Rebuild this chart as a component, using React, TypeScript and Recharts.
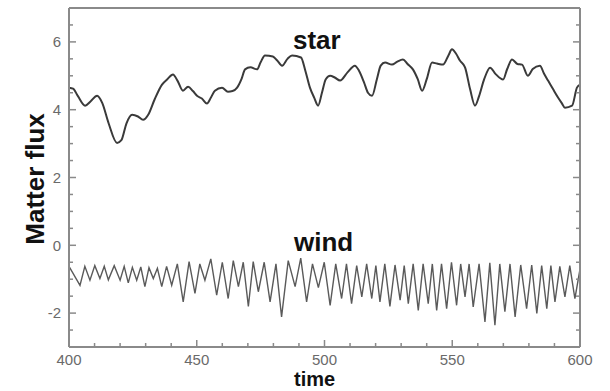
import { Line, LineChart, XAxis, YAxis } from "recharts";

// star matter flux (smooth curve)
const starTime = [
  400, 401.6, 403.5, 406.3, 408.5, 411, 413, 415.5, 418.8, 420.5, 422.5, 424.7, 427, 429, 431, 433.5, 436.4,
  438.5, 440.7, 442.5, 444.6, 446.6, 448.5, 450.1, 452, 454, 455.5, 457.1, 459.9, 462.2, 464, 465.8, 467.5,
  468.9, 471, 473.6, 475, 476.7, 479.8, 481.5, 483.4, 485.5, 487.3, 490.8, 492.5, 494.3, 496, 497.5, 499,
  500.5, 502.2, 504, 506.1, 509, 511.9, 513.5, 515.5, 517, 518.6, 520.5, 522, 523.7, 526.4, 528.5, 530.7,
  532.5, 534.6, 536.5, 538.2, 540, 542.1, 544, 546.4, 548.5, 549.9, 551.5, 553, 555, 557, 558.9, 560.5,
  562.5, 564.8, 567, 569.9, 571.5, 573.4, 575.5, 577.3, 579.6, 581.5, 584.3, 586, 587.5, 589.5, 591.4,
  592.8, 594.1, 596.9, 598.8, 600,
];
const starFlux = [
  4.65, 4.62, 4.4, 4.12, 4.25, 4.41, 4.2, 3.6, 3.02, 3.1, 3.6, 3.85, 3.8, 3.7, 3.85, 4.3, 4.74,
  4.9, 5.04, 4.85, 4.56, 4.68, 4.55, 4.41, 4.33, 4.18, 4.35, 4.56, 4.65, 4.53, 4.55, 4.65, 4.9,
  5.19, 5.25, 5.19, 5.4, 5.6, 5.57, 5.45, 5.3, 5.5, 5.6, 5.54, 5.15, 4.65, 4.35, 4.12, 4.5,
  4.9, 5.0, 4.95, 4.86, 5.1, 5.3, 5.15, 4.8, 4.5, 4.41, 4.9, 5.3, 5.39, 5.33, 5.42, 5.48,
  5.35, 5.19, 4.9, 4.56, 4.9, 5.39, 5.36, 5.33, 5.6, 5.78, 5.65, 5.45, 5.25, 4.6, 4.12, 4.4,
  4.9, 5.24, 5.05, 4.89, 5.2, 5.48, 5.35, 5.33, 5.0, 5.2, 5.3, 5.05, 4.86, 4.6, 4.36,
  4.2, 4.06, 4.12, 4.65, 4.74,
];

// wind matter flux (fast oscillation, alternating peaks and troughs)
const windTime = [
  400, 404.3, 406.2, 408.2, 410.1, 412.1, 413.8, 415.4, 417.7, 420, 421.6, 423.2, 424.8, 426.5, 428.1, 429.7,
  431.3, 433, 434.6, 436.3, 438.2, 440.2, 442.4, 444.7, 447, 449.3, 451.2, 453.2, 455.5, 457.8, 460, 462.3,
  464.3, 466.3, 468.2, 470.2, 472.1, 474.1, 476.4, 478.7, 481, 483.2, 485.8, 488.5, 490.7, 493, 495.3, 497.6,
  499.9, 502.2, 504.4, 506.7, 508.6, 510.6, 512.6, 514.6, 516.5, 518.5, 520.1, 521.7, 523.6, 525.6, 527.6,
  529.6, 531.2, 532.8, 534.7, 536.7, 538.6, 540.6, 542.2, 543.9, 545.8, 547.8, 549.7, 551.7, 553.3, 555,
  556.6, 558.2, 560.5, 562.8, 564.7, 566.7, 568.6, 570.6, 572.6, 574.6, 576.8, 579.1, 581.1, 583.1, 585,
  587, 588.6, 590.2, 592.1, 594.1, 596, 598, 600,
];
const windFlux = [
  -0.62, -1.18, -0.62, -1.03, -0.6, -0.98, -0.62, -1.02, -0.6, -1.03, -0.62, -1.11, -0.65, -1.03, -0.64, -1.22,
  -0.66, -0.98, -0.68, -1.22, -0.62, -1.18, -0.55, -1.67, -0.48, -1.42, -0.55, -1.03, -0.4, -1.47, -0.5, -1.57,
  -0.45, -1.22, -0.5, -1.8, -0.48, -1.37, -0.5, -1.67, -0.55, -2.11, -0.45, -1.22, -0.38, -1.67, -0.55, -1.25,
  -0.5, -1.77, -0.55, -1.57, -0.55, -1.72, -0.6, -1.52, -0.55, -1.57, -0.6, -1.67, -0.55, -1.8, -0.58,
  -1.62, -0.6, -1.72, -0.55, -1.92, -0.55, -1.72, -0.55, -1.92, -0.55, -1.87, -0.5, -1.77, -0.55, -1.52,
  -0.55, -1.82, -0.55, -2.26, -0.52, -2.36, -0.55, -1.96, -0.55, -2.11, -0.58, -1.87, -0.58, -2.01, -0.6,
  -1.87, -0.6, -1.67, -0.62, -1.52, -0.6, -1.57, -0.7,
];

const xMajor = [400, 450, 500, 550, 600];
const xMinor = [410, 420, 430, 440, 460, 470, 480, 490, 510, 520, 530, 540, 560, 570, 580, 590];
const yMajor = [-2, 0, 2, 4, 6];
const yMinor = [-2.5, -1.5, -1, -0.5, 0.5, 1, 1.5, 2.5, 3, 3.5, 4.5, 5, 5.5, 6.5];

const starData = starTime.map((t, i) => ({ t, v: starFlux[i] }));
const windData = windTime.map((t, i) => ({ t, v: windFlux[i] }));
const xTicks = [...xMajor, ...xMinor].sort((a, b) => a - b);
const yTicks = [...yMajor, ...yMinor].sort((a, b) => a - b);

const FONT = "'Liberation Sans', Arial, sans-serif";
const FRAME = "#8a8a8a";
const LABEL = "#6a6a6a";
const MAJOR_LEN = 7;
const MINOR_LEN = 4;

type Side = "bottom" | "top" | "left" | "right";

// inward tick marks (MATLAB style box); label only on majors of bottom/left
function boxTick(side: Side, majors: number[], gap: number, withLabel: boolean) {
  return (p: any) => {
    const { x, y, payload } = p;
    const major = majors.includes(payload.value);
    const len = major ? MAJOR_LEN : MINOR_LEN;
    let line: [number, number, number, number];
    if (side === "bottom") line = [x, y - gap, x, y - gap - len];
    else if (side === "top") line = [x, y + gap, x, y + gap + len];
    else if (side === "left") line = [x + gap, y, x + gap + len, y];
    else line = [x - gap, y, x - gap - len, y];
    const vertical = side === "bottom" || side === "top";
    return (
      <g>
        <line x1={line[0]} y1={line[1]} x2={line[2]} y2={line[3]} stroke={FRAME} strokeWidth={1.5} />
        {withLabel && major ? (
          <text
            x={x}
            y={y}
            dy={vertical ? "0.71em" : "0.355em"}
            textAnchor={vertical ? "middle" : "end"}
            fontFamily={FONT}
            fontSize={15}
            fill={LABEL}
          >
            {payload.value}
          </text>
        ) : null}
      </g>
    );
  };
}

const titleStyle = {
  position: "absolute" as const,
  fontFamily: FONT,
  fontWeight: 700,
  color: "#111",
  whiteSpace: "nowrap" as const,
  lineHeight: 0.74,
};

export default function App() {
  const axisLine = { stroke: FRAME, strokeWidth: 2 };
  return (
    <div style={{ position: "absolute", left: 0, top: 0, width: 610, height: 391, background: "#fff" }}>
      <LineChart width={610} height={391} margin={{ top: 7, right: 29, bottom: 15, left: 30 }}>
        <XAxis xAxisId="x" dataKey="t" type="number" domain={[400, 600]} allowDataOverflow ticks={xTicks}
          interval={0} height={29} axisLine={axisLine} tickLine={false} tickSize={0} tickMargin={7}
          tick={boxTick("bottom", xMajor, 7, true)} />
        <YAxis yAxisId="y" type="number" domain={[-3, 7]} allowDataOverflow ticks={yTicks} interval={0}
          width={39} axisLine={axisLine} tickLine={false} tickSize={0} tickMargin={8}
          tick={boxTick("left", yMajor, 8, true)} />
        <XAxis xAxisId="xt" orientation="top" type="number" domain={[400, 600]} allowDataOverflow ticks={xTicks}
          interval={0} height={1} axisLine={axisLine} tickLine={false} tickSize={0} tickMargin={0}
          tick={boxTick("top", xMajor, 0, false)} />
        <YAxis yAxisId="yr" orientation="right" type="number" domain={[-3, 7]} allowDataOverflow ticks={yTicks}
          interval={0} width={1} axisLine={axisLine} tickLine={false} tickSize={0} tickMargin={0}
          tick={boxTick("right", yMajor, 0, false)} />

        <Line xAxisId="x" yAxisId="y" data={windData} dataKey="v" type="linear" stroke="#5a5a5a"
          strokeWidth={1.4} dot={false} isAnimationActive={false} />
        <Line xAxisId="x" yAxisId="y" data={starData} dataKey="v" type="monotone" stroke="#3a3a3a"
          strokeWidth={2} dot={false} isAnimationActive={false} />
      </LineChart>

      <div style={{ ...titleStyle, fontSize: 26, left: 293, top: 31 }}>star</div>
      <div style={{ ...titleStyle, fontSize: 26, left: 294, top: 233 }}>wind</div>
      <div style={{ ...titleStyle, fontSize: 20, left: 294, top: 372 }}>time</div>
      <div
        style={{
          ...titleStyle,
          fontSize: 26,
          left: 35.5,
          top: 179,
          transform: "translate(-50%, -50%) rotate(-90deg)",
        }}
      >
        Matter flux
      </div>
    </div>
  );
}
